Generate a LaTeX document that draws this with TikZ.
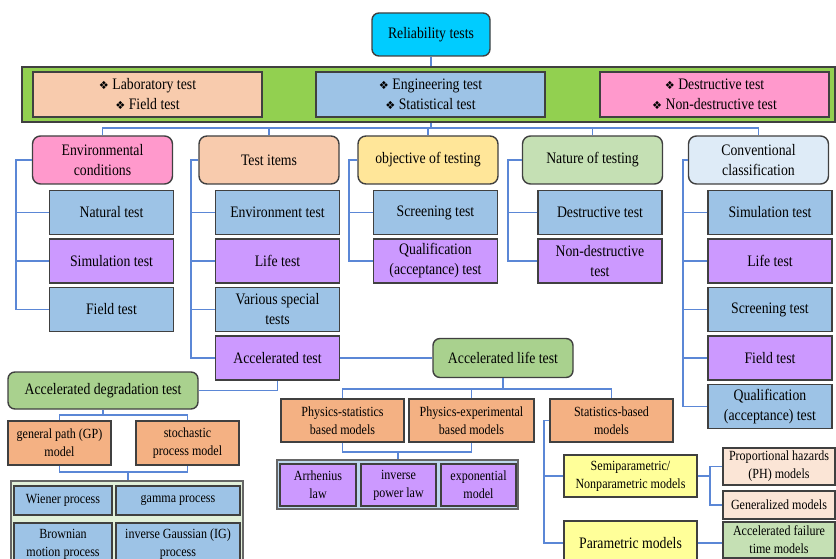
\documentclass[tikz,border=0pt]{standalone}
\usepackage{fontspec}
\setmainfont{Liberation Serif}[FakeStretch=0.86]
\newfontfamily\rtSymFont{DejaVu Sans}[Scale=0.7]
\usepackage{tikz}
\usetikzlibrary{positioning}
\definecolor{rtCyan}{HTML}{00CCFF}
\definecolor{rtBand}{HTML}{92D050}
\definecolor{rtPeach}{HTML}{F8CBAD}
\definecolor{rtBlue}{HTML}{9DC3E6}
\definecolor{rtPink}{HTML}{FF99CC}
\definecolor{rtYellow}{HTML}{FFE699}
\definecolor{rtGreen}{HTML}{C5E0B4}
\definecolor{rtPale}{HTML}{DEEBF7}
\definecolor{rtPurple}{HTML}{CC99FF}
\definecolor{rtAlt}{HTML}{A9D18E}
\definecolor{rtOrange}{HTML}{F4B183}
\definecolor{rtBoxGreen}{HTML}{E2F0D9}
\definecolor{rtBoxBlue}{HTML}{BDD7EE}
\definecolor{rtYellowB}{HTML}{FFFF99}
\definecolor{rtPeachL}{HTML}{FBE5D6}
\definecolor{rtBorder}{HTML}{404040}
\definecolor{rtLink}{HTML}{5B87D6}
\newcommand{\rtMain}{\fontsize{16}{20}\selectfont}
\newcommand{\rtSmall}{\fontsize{14}{18}\selectfont}
\newcommand{\rtBullet}{{\rtSymFont ❖}\ }
\tikzset{
    box/.style={
        rectangle,
        draw=rtBorder,
        line width=1.4pt,
        align=center,
        inner sep=2pt,
        font=\rtMain
    },
    small/.style={font=\rtSmall},
    catbox/.style={box, rounded corners=8pt, minimum width=140, minimum height=48},
    roundbox/.style={box, rounded corners=7pt},
    sub/.style={box, minimum width=124, minimum height=44},
    % Connectors
    conn/.style={draw=rtLink, line width=1.8pt}
}

\begin{document}
\begin{tikzpicture}[x=1pt, y=-1pt]
\useasboundingbox (0,0) rectangle (836,559);

% Root and grouping band
\node[roundbox, fill=rtCyan, minimum width=118, minimum height=43] (rel) at (431,34.5) {Reliability tests};
\node[box, fill=rtBand, minimum width=813, minimum height=55] (band) at (428.5,94.5) {};
\foreach \n/\x/\a/\b/\c in {lab/147.5/Laboratory test/Field test/rtPeach, eng/430.5/Engineering test/Statistical test/rtBlue, des/714.5/Destructive test/Non-destructive test/rtPink} {
    \node[box, fill=\c, minimum width=229, minimum height=45] (\n) at (\x,94.5) {\rtBullet\a\\\rtBullet\b};
}

% Categories
\foreach \n/\x/\w/\c in {env/102.5/{Environmental\\conditions}/rtPink, items/269/Test items/rtPeach, obj/428/objective of testing/rtYellow, nat/592.5/Nature of testing/rtGreen, conv/758.5/{Conventional\\classification}/rtPale} {
    \node[catbox, fill=\c] (\n) at (\x,160) {\w};
}

% Test kinds under each category
\foreach \i/\w/\c in {0/Natural test/rtBlue, 1/Simulation test/rtPurple, 2/Field test/rtBlue} {
    \node[sub, fill=\c] (env\i) at (111.5,{212.5+48.5*\i}) {\w};
}
\foreach \i/\w/\c in {0/Environment test/rtBlue, 1/Life test/rtPurple, 2/{Various special\\tests}/rtBlue, 3/Accelerated test/rtPurple} {
    \node[sub, fill=\c] (items\i) at (277.5,{212.5+48.5*\i}) {\w};
}
\foreach \i/\w/\c in {0/Screening test/rtBlue, 1/{Qualification\\(acceptance) test}/rtPurple} {
    \node[sub, fill=\c] (obj\i) at (435.5,{212.5+48.5*\i}) {\w};
}
\foreach \i/\w/\c in {0/Destructive test/rtBlue, 1/{Non-destructive\\test}/rtPurple} {
    \node[sub, fill=\c] (nat\i) at (600,{212.5+48.5*\i}) {\w};
}
\foreach \i/\w/\c in {0/Simulation test/rtBlue, 1/Life test/rtPurple, 2/Screening test/rtBlue, 3/Field test/rtPurple, 4/{Qualification\\(acceptance) test}/rtBlue} {
    \node[sub, fill=\c] (conv\i) at (770,{212.5+48.5*\i}) {\w};
}

% Tree links, top part
\coordinate (topBus) at (431,128);
\draw[conn] (rel.south) -- (rel.south |- band.north);
\draw[conn] (band.south -| topBus) -- (topBus);
\draw[conn] (env.north) |- (topBus) -| (conv.north);
\foreach \n in {items,obj,nat} {
    \draw[conn] (\n.north) -- (\n.north |- topBus);
}
\foreach \n/\x/\k in {env/16/2, items/191/3, obj/349/1, nat/508/1, conv/683/4} {
    \coordinate (\n-L) at (\x,160);
    \draw[conn] (\n.west) -- (\n-L) |- (\n\k.west);
    \foreach \j in {0,...,\k} {
        \draw[conn] (\n-L |- \n\j.west) -- (\n\j.west);
    }
}

% Accelerated testing
\node[roundbox, fill=rtAlt, minimum width=140, minimum height=39] (alt) at (503,358) {Accelerated life test};
\node[roundbox, fill=rtAlt, minimum width=190, minimum height=37] (adt) at (103,390.5) {Accelerated degradation test};
\draw[conn] (items3.east) -- (alt.west);
\draw[conn] (items3.south) |- (adt.east);

% Degradation models
\node[box, small, fill=rtOrange, minimum width=103, minimum height=44] (gp) at (59.5,443) {general path (GP)\\model};
\node[box, small, fill=rtOrange, minimum width=103, minimum height=44] (sp) at (187.5,443) {stochastic\\process model};
\node[box, draw=rtBorder!80, fill=rtBoxGreen, minimum width=232, minimum height=94] (proc) at (127,528) {};
\node[box, small, fill=rtBlue, minimum width=98, minimum height=29] (wie) at (63,500.5) {Wiener process};
\node[box, small, fill=rtBlue, minimum width=124, minimum height=29] (gam) at (178,500.5) {gamma process};
\node[box, small, fill=rtBlue, minimum width=98, minimum height=42] (bro) at (63,544) {Brownian\\motion process};
\node[box, small, fill=rtBlue, minimum width=124, minimum height=42] (ig) at (178,544) {inverse Gaussian (IG)\\process};
\coordinate (adtBus) at (103,415);
\coordinate (procBus) at (128,472);
\draw[conn] (adt.south) -- (adtBus);
\draw[conn] (gp.north) |- (adtBus) -| (sp.north);
\draw[conn] (gp.south) |- (procBus) -| (sp.south);
\draw[conn] (procBus) -- (procBus |- proc.north);

% Life test models
\node[box, small, fill=rtOrange, minimum width=123, minimum height=43] (phyS) at (342.5,420.5) {Physics-statistics\\based models};
\node[box, small, fill=rtOrange, minimum width=125, minimum height=43] (phyE) at (471.5,420.5) {Physics-experimental\\based models};
\node[box, small, fill=rtOrange, minimum width=123, minimum height=43] (statB) at (611.5,420.5) {Statistics-based\\models};
\node[box, draw=rtBorder!80, fill=rtBoxBlue, minimum width=241, minimum height=49] (law) at (397.5,484.5) {};
\node[box, small, fill=rtPurple, minimum width=76, minimum height=42] (arr) at (318,485) {Arrhenius\\law};
\node[box, small, fill=rtPurple, line width=2pt, minimum width=75, minimum height=42] (ipl) at (398.5,485) {inverse\\power law};
\node[box, small, fill=rtPurple, minimum width=75, minimum height=42] (expo) at (478.5,485) {exponential\\model};
\coordinate (altBus) at (503,389);
\coordinate (lawBus) at (398,452);
\draw[conn] (alt.south) -- (altBus);
\draw[conn] (phyS.north) |- (altBus) -| (statB.north);
\draw[conn] (phyE.north) -- (phyE.north |- altBus);
\draw[conn] (phyS.south) |- (lawBus) -| (phyE.south);
\draw[conn] (lawBus) -- (lawBus |- law.north);

% Statistics-based models
\node[box, small, fill=rtYellowB, minimum width=133, minimum height=42] (semi) at (630.5,476) {Semiparametric/\\Nonparametric models};
\node[box, fill=rtYellowB, minimum width=133, minimum height=44] (para) at (630.5,543) {Parametric models};
\node[box, small, fill=rtPeachL, minimum width=112, minimum height=37] (ph) at (779,466.5) {Proportional hazards\\(PH) models};
\node[box, small, fill=rtPeachL, minimum width=112, minimum height=28] (gen) at (779,505) {Generalized models};
\node[box, small, fill=rtGreen, minimum width=112, minimum height=36] (aft) at (779,540) {Accelerated failure\\time models};
\coordinate (statL) at (544,420.5);
\coordinate (semiR) at (710,476);
\draw[conn] (statB.west) -- (statL) |- (para.west);
\draw[conn] (statL |- semi.west) -- (semi.west);
\draw[conn] (semi.east) -- (semiR);
\draw[conn] (ph.west) -| (semiR) |- (gen.west);
\draw[conn] (para.east) -- (para.east -| aft.west);
\end{tikzpicture}
\end{document}
